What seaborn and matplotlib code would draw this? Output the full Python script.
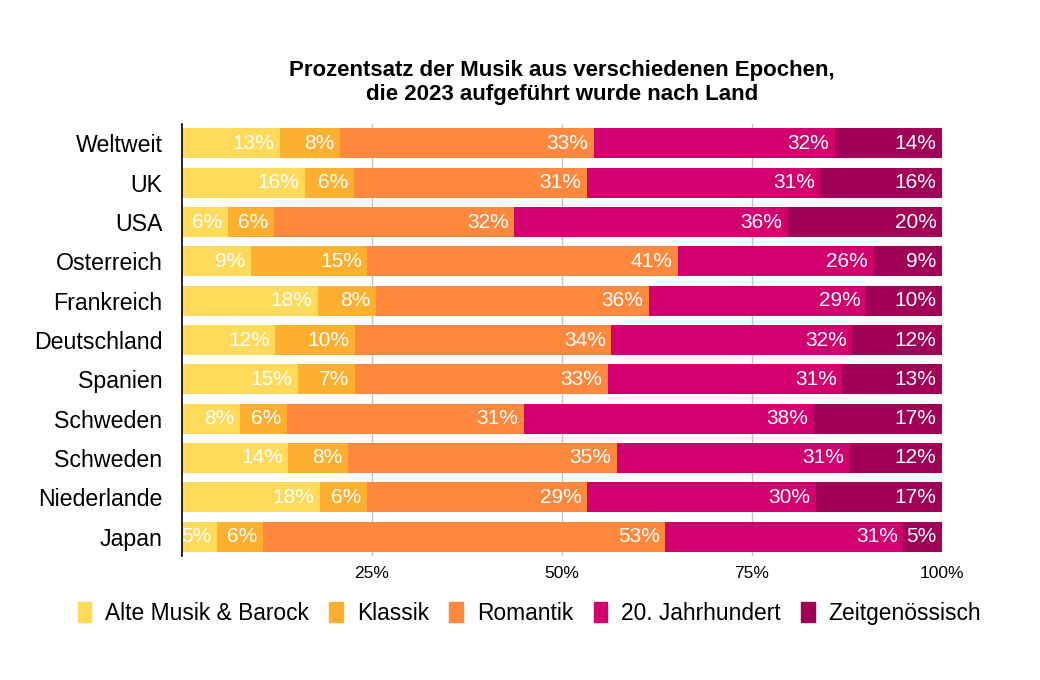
import pandas as pd
import matplotlib.pyplot as plt
import seaborn as sns
import numpy as np

sns.set_style("white")
plt.rcParams["font.family"] = ["Liberation Sans", "DejaVu Sans"]
plt.rcParams["text.color"] = "black"
plt.rcParams["xtick.color"] = "black"
plt.rcParams["ytick.color"] = "black"

# Daten (Anteile in %, aus der Grafik geschätzt)
laender = ["Weltweit", "UK", "USA", "Osterreich", "Frankreich", "Deutschland",
           "Spanien", "Schweden", "Schweden", "Niederlande", "Japan"]
epochen = ["Alte Musik & Barock", "Klassik", "Romantik", "20. Jahrhundert", "Zeitgenössisch"]
alte_musik = [12.9, 16.2, 6.0, 9.1, 17.9, 12.3, 15.3, 7.6, 14.0, 18.1, 4.6]
klassik = [7.9, 6.4, 6.1, 15.3, 7.6, 10.4, 7.4, 6.2, 7.8, 6.2, 6.0]
romantik = [33.4, 30.7, 31.6, 40.9, 35.9, 33.8, 33.3, 31.2, 35.4, 29.0, 53.0]
jh20 = [31.7, 30.7, 36.0, 25.7, 28.6, 31.7, 30.9, 38.1, 30.7, 30.1, 31.3]
zeitgen = [14.1, 16.0, 20.3, 9.0, 10.0, 11.8, 13.1, 16.9, 12.1, 16.6, 5.1]
xticks = [25, 50, 75, 100]

farben = ["#FFDA5B", "#FDAF30", "#FE883D", "#D2006F", "#A00055"]

werte = [alte_musik, klassik, romantik, jh20, zeitgen]
df = pd.DataFrame({e: v for e, v in zip(epochen, werte)})
df["zeile"] = np.arange(len(laender))
kum = df[epochen].cumsum(axis=1)

fig = plt.figure(figsize=(10.4, 6.8), dpi=100)
ax = fig.add_axes([0.175, 0.182, 0.7308, 0.636])

# Gitterlinien hinter den Balken
for t in xticks:
    ax.axvline(t, color="#c4c4c4", lw=1, zorder=0)

# gestapelte Balken: von hinten (größte Summe) nach vorne
for i in range(len(epochen) - 1, -1, -1):
    sns.barplot(x=kum[epochen[i]], y=df["zeile"], orient="h", color=farben[i],
                width=0.76, linewidth=0, saturation=1, ax=ax, zorder=2)

# Werte rechtsbündig im Segment
for i, e in enumerate(epochen):
    for r in range(len(laender)):
        ax.annotate(f"{round(df[e][r]):.0f}%", (kum[e][r], r),
                    xytext=(-4, 0), textcoords="offset points",
                    ha="right", va="center", color="white", fontsize=15, zorder=5)

ax.set_xlim(0, 100)
ax.set_ylim(len(laender) - 0.5, -0.5)
ax.set_xticks(xticks)
ax.set_xticklabels([f"{t}%" for t in xticks], fontsize=12.5)
ax.set_yticks(range(len(laender)))
ax.set_yticklabels(laender, fontsize=16.7)
ax.tick_params(axis="y", length=0, pad=14)
ax.tick_params(axis="x", length=4, color="#c4c4c4", pad=3)
ax.set_xlabel("")
ax.set_ylabel("")
for s in ["top", "right", "bottom"]:
    ax.spines[s].set_visible(False)
ax.spines["left"].set_color("black")
ax.spines["left"].set_linewidth(1.2)
ax.spines["left"].set_zorder(6)

ax.set_title("Prozentsatz der Musik aus verschiedenen Epochen,\ndie 2023 aufgeführt wurde nach Land",
             fontsize=16, fontweight="bold", pad=17)

handles = [plt.Rectangle((0, 0), 1, 1, color=c) for c in farben]
fig.legend(handles, epochen, loc="center", bbox_to_anchor=(0.509, 0.098), ncol=5,
           frameon=False, fontsize=16.4, handlelength=0.6, handleheight=1.0,
           handletextpad=0.6, columnspacing=0.9)

fig.savefig("out.png", dpi=100)
